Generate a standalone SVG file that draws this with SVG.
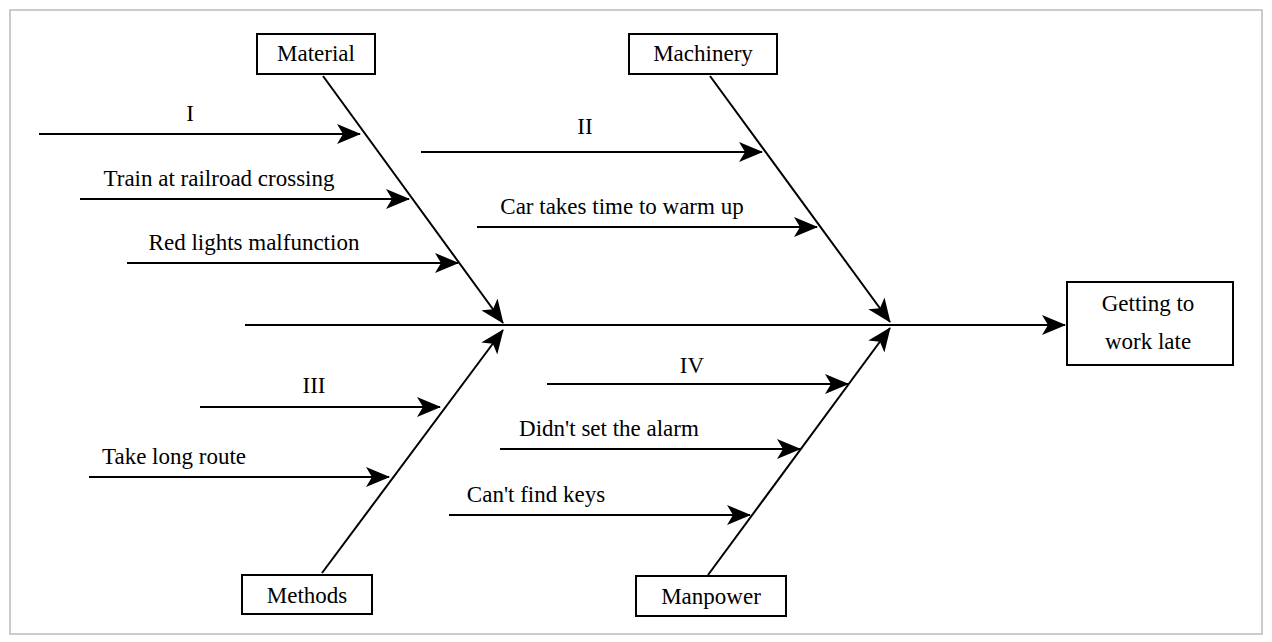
<svg xmlns="http://www.w3.org/2000/svg" width="1272" height="642" viewBox="0 0 1272 642">
<style>
text{font-family:"Liberation Serif",serif;font-size:23px;fill:#000}
.l{stroke:#000;stroke-width:2;fill:none}
.a{marker-end:url(#ah)}
.b{fill:#fff;stroke:#000;stroke-width:2}
</style>
<defs><marker id="ah" markerWidth="12" markerHeight="10" refX="11" refY="5" orient="auto" markerUnits="userSpaceOnUse" viewBox="0 0 12 10"><path d="M0,0 L12,5 L0,10 L3,5 z" fill="#000"/></marker>
<marker id="ah2" markerWidth="24" markerHeight="20" refX="23" refY="10" orient="auto" markerUnits="userSpaceOnUse" viewBox="0 0 24 20"><path d="M0,0 L24,10 L0,20 L6,10 z" fill="#000"/></marker></defs>
<rect x="10" y="10" width="1252" height="624" fill="#fff" stroke="#bbb" stroke-width="1.5"/>
<g id="connectors">
<line class="l" x1="245" y1="325" x2="1065" y2="325" marker-end="url(#ah2)"/>
<line class="l" x1="323" y1="76" x2="503" y2="323" marker-end="url(#ah2)"/>
<line class="l" x1="710" y1="76" x2="890" y2="322" marker-end="url(#ah2)"/>
<line class="l" x1="322" y1="573" x2="503" y2="330" marker-end="url(#ah2)"/>
<line class="l" x1="708" y1="575" x2="890" y2="328" marker-end="url(#ah2)"/>
<line class="l" x1="39" y1="134" x2="360" y2="134" marker-end="url(#ah2)"/>
<line class="l" x1="80" y1="199" x2="409" y2="199" marker-end="url(#ah2)"/>
<line class="l" x1="127" y1="263" x2="458" y2="263" marker-end="url(#ah2)"/>
<line class="l" x1="421" y1="152" x2="762" y2="152" marker-end="url(#ah2)"/>
<line class="l" x1="477" y1="227" x2="817" y2="227" marker-end="url(#ah2)"/>
<line class="l" x1="200" y1="407" x2="440" y2="407" marker-end="url(#ah2)"/>
<line class="l" x1="89" y1="477" x2="389" y2="477" marker-end="url(#ah2)"/>
<line class="l" x1="547" y1="384" x2="848" y2="384" marker-end="url(#ah2)"/>
<line class="l" x1="500" y1="449" x2="800" y2="449" marker-end="url(#ah2)"/>
<line class="l" x1="449" y1="515" x2="750" y2="515" marker-end="url(#ah2)"/>
</g>
<g id="labels">
<text x="190" y="121" text-anchor="middle">I</text>
<text x="219" y="186" text-anchor="middle">Train at railroad crossing</text>
<text x="254" y="250" text-anchor="middle">Red lights malfunction</text>
<text x="585" y="134" text-anchor="middle">II</text>
<text x="622" y="214" text-anchor="middle">Car takes time to warm up</text>
<text x="314" y="393" text-anchor="middle">III</text>
<text x="174" y="464" text-anchor="middle">Take long route</text>
<text x="692" y="373" text-anchor="middle">IV</text>
<text x="609" y="436" text-anchor="middle">Didn't set the alarm</text>
<text x="536" y="502" text-anchor="middle">Can't find keys</text>
</g>
<g id="material"><rect class="b" x="257" y="34" width="118" height="40"/><text x="316" y="61" text-anchor="middle">Material</text></g>
<g id="machinery"><rect class="b" x="629" y="34" width="148" height="40"/><text x="703" y="61" text-anchor="middle">Machinery</text></g>
<g id="methods"><rect class="b" x="242" y="575" width="130" height="39"/><text x="307" y="603" text-anchor="middle">Methods</text></g>
<g id="manpower"><rect class="b" x="636" y="576" width="150" height="40"/><text x="711" y="604" text-anchor="middle">Manpower</text></g>
<g id="effect"><rect class="b" x="1067" y="282" width="166" height="83"/><text x="1148" y="311" text-anchor="middle">Getting to</text><text x="1148" y="349" text-anchor="middle">work late</text></g>
</svg>
